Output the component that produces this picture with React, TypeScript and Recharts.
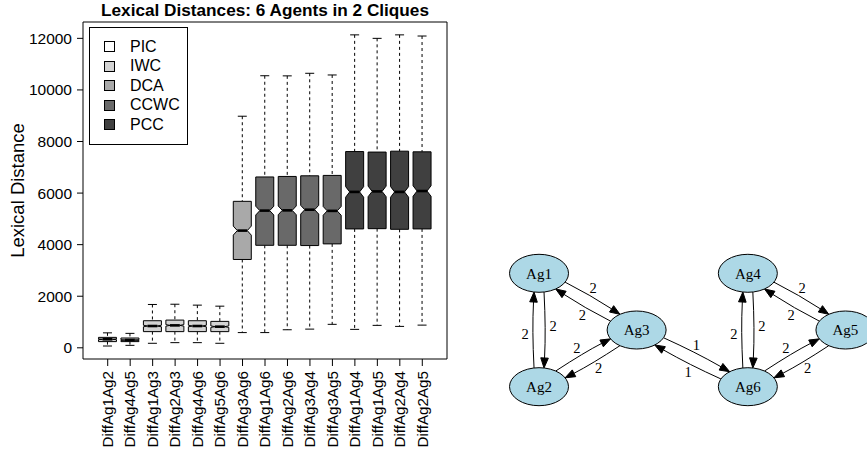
import React from 'react';
import {
  ComposedChart, Bar, XAxis, YAxis, ReferenceArea, Legend,
  ScatterChart, Scatter, ReferenceLine,
} from 'recharts';

// ---- boxplot data ----
const categories = [
  'DiffAg1Ag2', 'DiffAg4Ag5', 'DiffAg1Ag3', 'DiffAg2Ag3', 'DiffAg4Ag6', 'DiffAg5Ag6',
  'DiffAg3Ag6', 'DiffAg1Ag6', 'DiffAg2Ag6', 'DiffAg3Ag4', 'DiffAg3Ag5',
  'DiffAg1Ag4', 'DiffAg1Ag5', 'DiffAg2Ag4', 'DiffAg2Ag5',
];
// index into legendGroups, used for the box fill
const boxGroup = [1, 1, 1, 1, 1, 1, 2, 3, 3, 3, 3, 4, 4, 4, 4];
const whiskerLow = [70, 95, 175, 200, 200, 175, 590, 590, 700, 725, 910, 715, 870, 830, 880];
const lowerQuartile = [240, 240, 627, 627, 627, 627, 3425, 3975, 3975, 3965, 4030, 4610, 4620, 4595, 4610];
const medians = [330, 300, 845, 870, 845, 820, 4545, 5320, 5330, 5355, 5310, 6045, 6065, 6045, 6080];
const upperQuartile = [405, 380, 1050, 1075, 1050, 1025, 5680, 6625, 6645, 6670, 6685, 7610, 7590, 7625, 7600];
const whiskerHigh = [580, 560, 1680, 1690, 1655, 1615, 8980, 10550, 10545, 10645, 10580, 12135, 12000, 12135, 12090];
const notchHalf = [15, 15, 30, 30, 30, 30, 175, 170, 170, 170, 170, 205, 205, 205, 205];

const legendGroups = ['PIC', 'IWC', 'DCA', 'CCWC', 'PCC'];
const groupFills = ['#ffffff', '#d3d3d3', '#a9a9a9', '#696969', '#404040'];

const yTicks = [0, 2000, 4000, 6000, 8000, 10000, 12000];
const title = 'Lexical Distances: 6 Agents in 2 Cliques';

// ---- clique graph (layout units) ----
const agents = ['Ag1', 'Ag2', 'Ag3', 'Ag4', 'Ag5', 'Ag6'];
const agentX = [0, 0, 0.86, 1.84, 2.7, 1.84];
const agentY = [1, 0, 0.5, 1, 0.5, 0];
const edgeFrom = ['Ag1', 'Ag3', 'Ag1', 'Ag2', 'Ag2', 'Ag3', 'Ag3', 'Ag6', 'Ag4', 'Ag5', 'Ag4', 'Ag6', 'Ag6', 'Ag5'];
const edgeTo = ['Ag3', 'Ag1', 'Ag2', 'Ag1', 'Ag3', 'Ag2', 'Ag6', 'Ag3', 'Ag5', 'Ag4', 'Ag6', 'Ag4', 'Ag5', 'Ag6'];
const edgeWeight = [2, 2, 2, 2, 2, 2, 1, 1, 2, 2, 2, 2, 2, 2];

const boxData = categories.map((name, i) => ({
  pos: i + 1,
  name,
  range: [whiskerLow[i], whiskerHigh[i]],
  q1: lowerQuartile[i],
  median: medians[i],
  q3: upperQuartile[i],
  notch: notchHalf[i],
  fill: groupFills[boxGroup[i]],
}));

const nodeData = agents.map((name, i) => ({ name, x: agentX[i], y: agentY[i] }));
const nodeIndex = (n: string) => agents.indexOf(n);

const SANS = '"Liberation Sans", Arial, Helvetica, sans-serif';
const SERIF = '"Liberation Serif", "Times New Roman", Times, serif';

function BoxShape(props: any) {
  const { x, y, width, height, payload } = props;
  if (x == null || !payload) return null;
  const [lo, hi] = payload.range;
  const top = Math.min(y, y + height);
  const bottom = Math.max(y, y + height);
  const py = (v: number) => bottom - ((bottom - top) * (v - lo)) / (hi - lo);
  const cx = x + width / 2;
  const w = width / 2;
  const nw = w * 0.55;
  const cap = w / 2;
  const yq1 = py(payload.q1);
  const yq3 = py(payload.q3);
  const ym = py(payload.median);
  const yn1 = py(payload.median - payload.notch);
  const yn2 = py(payload.median + payload.notch);
  const pts = [
    [cx - w, yq1], [cx - w, yn1], [cx - nw, ym], [cx - w, yn2], [cx - w, yq3],
    [cx + w, yq3], [cx + w, yn2], [cx + nw, ym], [cx + w, yn1], [cx + w, yq1],
  ].map((p) => p.join(',')).join(' ');
  return (
    <g>
      <line x1={cx} x2={cx} y1={top} y2={yq3} stroke="#000" strokeDasharray="3 3" />
      <line x1={cx} x2={cx} y1={yq1} y2={bottom} stroke="#000" strokeDasharray="3 3" />
      <line x1={cx - cap} x2={cx + cap} y1={top} y2={top} stroke="#000" />
      <line x1={cx - cap} x2={cx + cap} y1={bottom} y2={bottom} stroke="#000" />
      <polygon points={pts} fill={payload.fill} stroke="#000" strokeWidth={1} />
      <line x1={cx - nw} x2={cx + nw} y1={ym} y2={ym} stroke="#000" strokeWidth={2.6} />
    </g>
  );
}

function CategoryTick(props: any) {
  const { x, y, payload } = props;
  const label = categories[payload.value - 1];
  return (
    <text x={x} y={y} dy="0.35em" textAnchor="end" fontSize={15.2} fill="#000"
      fontFamily={SANS} transform={`rotate(-90, ${x}, ${y})`}>
      {label}
    </text>
  );
}

function YTitle(props: any) {
  const vb = props.viewBox || {};
  const cx = vb.x + 18;
  const cy = vb.y + vb.height / 2;
  return (
    <text x={cx} y={cy} textAnchor="middle" dy="0.35em" fontSize={18.5} fill="#000"
      fontFamily={SANS} transform={`rotate(-90, ${cx}, ${cy})`}>
      Lexical Distance
    </text>
  );
}

function LegendBox() {
  return (
    <div style={{
      border: '1px solid #000', background: '#fff', boxSizing: 'border-box',
      width: 99, height: 118, padding: '9px 0 9px 14px', fontFamily: SANS,
    }}>
      {legendGroups.map((g, i) => (
        <div key={g} style={{ display: 'flex', alignItems: 'center', height: 19.5, fontSize: 16, color: '#000' }}>
          <span style={{
            display: 'inline-block', width: 11, height: 11, boxSizing: 'border-box',
            border: '1px solid #000', background: groupFills[i], marginRight: 15,
          }} />
          <span>{g}</span>
        </div>
      ))}
    </div>
  );
}

const RX = 29.5;
const RY = 19;

function exitPoint(px: number, py: number, vx: number, vy: number, cx: number, cy: number) {
  const dx = px - cx;
  const dy = py - cy;
  const a = (vx * vx) / (RX * RX) + (vy * vy) / (RY * RY);
  const b = 2 * ((dx * vx) / (RX * RX) + (dy * vy) / (RY * RY));
  const c = (dx * dx) / (RX * RX) + (dy * dy) / (RY * RY) - 1;
  const t = (-b + Math.sqrt(Math.max(0, b * b - 4 * a * c))) / (2 * a);
  return [px + t * vx, py + t * vy];
}

function EdgeShape(props: any) {
  const { x1, y1, x2, y2, weight } = props;
  if (x1 == null || x2 == null) return null;
  const len = Math.hypot(x2 - x1, y2 - y1);
  const ux = (x2 - x1) / len;
  const uy = (y2 - y1) / len;
  const nx = uy;
  const ny = -ux;
  const off = 4;
  const bend = 3;
  const sx0 = x1 + nx * off;
  const sy0 = y1 + ny * off;
  const ex0 = x2 + nx * off;
  const ey0 = y2 + ny * off;
  const cx = (x1 + x2) / 2 + nx * (off + bend);
  const cy = (y1 + y2) / 2 + ny * (off + bend);
  const [sx, sy] = exitPoint(sx0, sy0, cx - sx0, cy - sy0, x1, y1);
  const [ex, ey] = exitPoint(ex0, ey0, cx - ex0, cy - ey0, x2, y2);
  const al = Math.hypot(ex - cx, ey - cy);
  const ax = (ex - cx) / al;
  const ay = (ey - cy) / al;
  const L = 10;
  const W = 3.8;
  const bx = ex - ax * L;
  const by = ey - ay * L;
  const t = 0.45;
  const lx = (1 - t) * (1 - t) * sx + 2 * (1 - t) * t * cx + t * t * ex + nx * 8;
  const ly = (1 - t) * (1 - t) * sy + 2 * (1 - t) * t * cy + t * t * ey + ny * 8;
  return (
    <g>
      <path d={`M${sx},${sy} Q${cx},${cy} ${bx},${by}`} fill="none" stroke="#000" strokeWidth={1} />
      <polygon
        points={`${ex},${ey} ${bx + ay * W},${by - ax * W} ${bx - ay * W},${by + ax * W}`}
        fill="#000" stroke="#000" strokeWidth={1} />
      <text x={lx} y={ly} dy="0.35em" textAnchor="middle" fontSize={14.5} fontFamily={SERIF} fill="#000">
        {weight}
      </text>
    </g>
  );
}

function NodeShape(props: any) {
  const { cx, cy, payload } = props;
  if (cx == null) return null;
  return (
    <g>
      <ellipse cx={cx} cy={cy} rx={RX} ry={RY} fill="#add8e6" stroke="#000" strokeWidth={1} />
      <text x={cx} y={cy} dy="0.35em" textAnchor="middle" fontSize={15} fontFamily={SERIF} fill="#000">
        {payload.name}
      </text>
    </g>
  );
}

export default function App() {
  return (
    <div style={{
      position: 'absolute', left: 0, top: 0, width: 867, height: 457,
      overflow: 'hidden', background: '#fff', fontFamily: SANS,
    }}>
      <div style={{ position: 'absolute', left: 0, top: 0 }}>
        <ComposedChart width={460} height={457} data={boxData}
          margin={{ top: 22, right: 13, bottom: 0, left: 0 }}>
          <XAxis dataKey="pos" type="number" domain={[-0.1, 16.1]} allowDataOverflow
            ticks={categories.map((_, i) => i + 1)} interval={0} height={98}
            axisLine={false} tickLine={{ stroke: '#000' }} tickSize={7} tickMargin={5}
            tick={<CategoryTick />} />
          <YAxis type="number" domain={[-434, 12634]} allowDataOverflow ticks={yTicks}
            width={83} axisLine={false} tickLine={{ stroke: '#000' }} tickSize={6} tickMargin={5}
            tick={{ fill: '#000', fontSize: 15.5, fontFamily: SANS }}
            label={(p: any) => <YTitle {...p} />} />
          <Bar dataKey="range" barSize={18} shape={<BoxShape />} isAnimationActive={false} />
          <ReferenceArea x1={-0.1} x2={16.1} y1={-434} y2={12634} ifOverflow="visible"
            fill="none" fillOpacity={0} stroke="#000" strokeWidth={1}
            label={{
              value: title, position: 'top', offset: 6, fill: '#000',
              fontSize: 17.2, fontWeight: 'bold', fontFamily: SANS,
            }} />
          <Legend layout="vertical" align="center" verticalAlign="middle"
            wrapperStyle={{ left: 89, top: 27, width: 99, height: 118 }}
            content={() => <LegendBox />} />
        </ComposedChart>
      </div>
      <div style={{ position: 'absolute', left: 490, top: 220 }}>
        <ScatterChart width={377} height={220} margin={{ top: 0, right: 0, bottom: 0, left: 0 }}>
          <XAxis type="number" dataKey="x" domain={[-0.432, 2.89]} allowDataOverflow hide height={0} />
          <YAxis type="number" dataKey="y" domain={[-0.47, 1.47]} allowDataOverflow hide width={0} />
          {edgeFrom.map((f, i) => {
            const a = nodeIndex(f);
            const b = nodeIndex(edgeTo[i]);
            return (
              <ReferenceLine key={`${f}-${edgeTo[i]}`} ifOverflow="visible"
                segment={[{ x: agentX[a], y: agentY[a] }, { x: agentX[b], y: agentY[b] }]}
                shape={(p: any) => <EdgeShape {...p} weight={edgeWeight[i]} />} />
            );
          })}
          <Scatter data={nodeData} shape={<NodeShape />} isAnimationActive={false} />
        </ScatterChart>
      </div>
    </div>
  );
}
